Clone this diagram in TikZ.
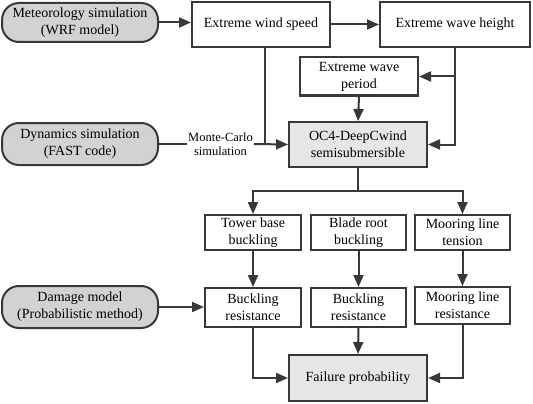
\documentclass[tikz,border=0pt]{standalone}
\usepackage{fontspec}
\setmainfont{Liberation Serif}
\usetikzlibrary{arrows.meta}
\definecolor{ln}{HTML}{383838}
\definecolor{pill}{HTML}{D2D2D2}
\definecolor{core}{HTML}{E6E6E6}
\tikzset{
  base/.style={draw=ln, line width=2pt, align=center, inner sep=1pt,
    font=\fontsize{14}{17}\selectfont, text=black},
  wbox/.style={base, fill=white},
  gbox/.style={base, fill=core},
  pbox/.style={base, fill=pill, rounded corners=17pt},
  lbl/.style={align=center, inner sep=1pt, font=\fontsize{12.5}{14}\selectfont},
  con/.style={draw=ln, line width=2pt},
  arr/.style={con, -{Triangle[length=12pt,width=10pt]}},
}
\begin{document}
\begin{tikzpicture}[x=1pt,y=-1pt]
\useasboundingbox (0,0) rectangle (533,404);
\node[pbox, minimum width=156pt, minimum height=39pt] (met) at (80,22.5) {Meteorology simulation\\(WRF model)};
\node[wbox, minimum width=138pt, minimum height=45pt] (wind) at (261,24.5) {Extreme wind speed};
\node[wbox, minimum width=150pt, minimum height=45pt] (height) at (455,24.5) {Extreme wave height};
\node[wbox, minimum width=118pt, minimum height=38pt] (period) at (359,76.5) {Extreme wave\\period};
\node[gbox, minimum width=138pt, minimum height=45pt] (oc4) at (358,144.5) {OC4-DeepCwind\\semisubmersible};
\node[pbox, minimum width=156pt, minimum height=42pt] (dyn) at (80,144) {Dynamics simulation\\(FAST code)};
\node[lbl] (mc) at (220.5,144) {Monte-Carlo\\simulation};
\node[wbox, minimum width=96pt, minimum height=35pt] (tower) at (253,232.5) {Tower base\\buckling};
\node[wbox, minimum width=95pt, minimum height=35pt] (blade) at (358.5,232.5) {Blade root\\buckling};
\node[wbox, minimum width=95pt, minimum height=35pt] (moort) at (462.5,232.5) {Mooring line\\tension};
\node[wbox, minimum width=96pt, minimum height=39pt] (bres) at (253,307.5) {Buckling\\resistance};
\node[wbox, minimum width=95pt, minimum height=39pt] (blres) at (358.5,307.5) {Buckling\\resistance};
\node[wbox, minimum width=95pt, minimum height=37pt] (mres) at (462.5,305.5) {Mooring line\\resistance};
\node[pbox, minimum width=156pt, minimum height=42pt] (dam) at (80,307) {Damage model\\(Probabilistic method)};
\node[gbox, minimum width=138pt, minimum height=46pt] (fail) at (358,378) {Failure probability};
% connectors
\draw[arr] (met.east) -- (met.east -| wind.west);
\draw[arr] (wind.east) -- (height.west);
\coordinate (jn) at (265,144);
\draw[con] (wind.south -| jn) -- (jn);
\draw[con] (dyn.east) -- (mc.west);
\draw[arr] (mc.east) -- (oc4.west);
\draw[arr] (height.south) |- (oc4.east);
\draw[arr] (height.south |- period.east) -- (period.east);
\draw[arr] (period.south) -- (oc4.north);
\coordinate (split) at (358,191);
\draw[con] (oc4.south) -- (split);
\draw[arr] (split) -| (tower.north);
\draw[arr] (split) -| (moort.north);
\draw[arr] (tower.south) -- (bres.north);
\draw[arr] (blade.south) -- (blres.north);
\draw[arr] (moort.south) -- (mres.north);
\draw[arr] (dam.east) -- (dam.east -| bres.west);
\draw[arr] (bres.south) |- (fail.west);
\draw[arr] (blres.south) -- (fail.north);
\draw[arr] (mres.south) |- (fail.east);
\end{tikzpicture}
\end{document}
